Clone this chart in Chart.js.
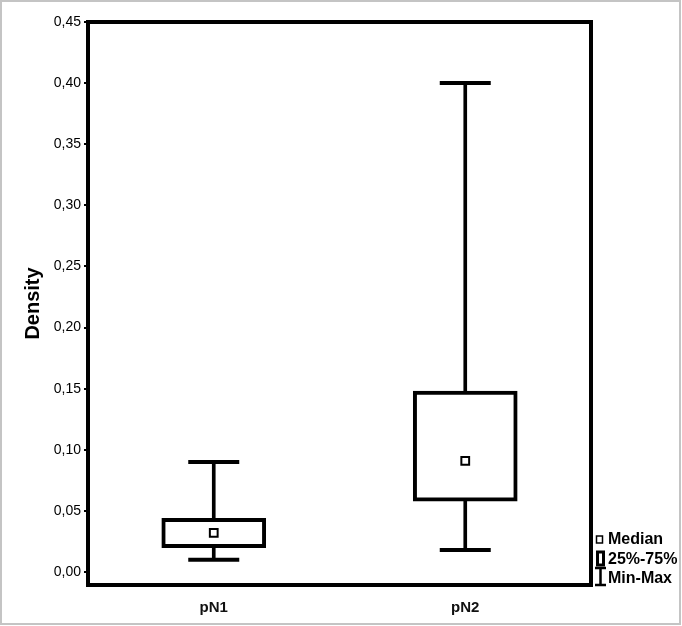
<!DOCTYPE html>
<html>
<head>
<meta charset="utf-8">
<script src="https://cdn.jsdelivr.net/npm/chart.js@4.4.1/dist/chart.umd.min.js"></script>
<style>
  html, body { margin: 0; padding: 0; background: #fff; }
  #wrap { width: 682px; height: 626px; position: relative; }
</style>
</head>
<body>
<div id="wrap"><canvas id="c" width="682" height="626"></canvas></div>
<script>
// values
var groups = ['pN1', 'pN2'];
var minVals = [0.010, 0.018];
var q1Vals = [0.020, 0.058];
var medianVals = [0.032, 0.091];
var q3Vals = [0.044, 0.148];
var maxVals = [0.090, 0.400];
var yTicks = [0, 0.05, 0.10, 0.15, 0.20, 0.25, 0.30, 0.35, 0.40, 0.45];
var legendItems = ['Median', '25%-75%', 'Min-Max'];

var ctx = document.getElementById('c').getContext('2d');

var frame = {
  id: 'frame',
  afterDraw: function(chart) {
    var c = chart.ctx, a = chart.chartArea;
    c.save();
    // light grey outer border of the picture
    c.strokeStyle = '#c4c4c4';
    c.lineWidth = 2;
    c.strokeRect(1, 1, 679, 623);
    // plot frame
    c.strokeStyle = '#000';
    c.lineWidth = 4;
    c.strokeRect(a.left, a.top, a.right - a.left, a.bottom - a.top);

    // legend at lower right
    var x0 = a.right + 5;
    c.fillStyle = '#000';
    c.font = 'bold 16px "Liberation Sans", Arial, sans-serif';
    c.textBaseline = 'middle';
    c.textAlign = 'left';
    var ys = [540, 560, 579];
    legendItems.forEach(function(t, i) { c.fillText(t, x0 + 12, ys[i]); });
    // median icon
    c.lineWidth = 1.5;
    c.fillStyle = '#fff';
    c.fillRect(x0 + 0.5, 536, 6, 7);
    c.strokeRect(x0 + 0.5, 536, 6, 7);
    // box icon
    c.lineWidth = 3;
    c.strokeRect(x0 + 1.5, 552, 6, 13);
    // min-max icon
    c.lineWidth = 2.5;
    c.beginPath();
    c.moveTo(x0 + 4.5, 568); c.lineTo(x0 + 4.5, 585);
    c.moveTo(x0 - 1, 568); c.lineTo(x0 + 10, 568);
    c.moveTo(x0 - 1, 585); c.lineTo(x0 + 10, 585);
    c.stroke();
    c.restore();
  }
};

new Chart(ctx, {
  type: 'bar',
  data: {
    labels: groups,
    datasets: [
      {
        type: 'line',
        label: 'Median',
        data: medianVals,
        showLine: false,
        pointStyle: 'rect',
        pointRadius: 5.5,
        pointBorderWidth: 2,
        pointBackgroundColor: '#fff',
        pointBorderColor: '#000',
        order: 0
      },
      {
        type: 'line',
        label: 'Max',
        data: maxVals,
        showLine: false,
        pointStyle: 'line',
        pointRadius: 25.5,
        pointBorderWidth: 4,
        pointBorderColor: '#000',
        order: 1
      },
      {
        type: 'line',
        label: 'Min',
        data: minVals,
        showLine: false,
        pointStyle: 'line',
        pointRadius: 25.5,
        pointBorderWidth: 4,
        pointBorderColor: '#000',
        order: 1
      },
      {
        label: '25%-75%',
        data: groups.map(function(g, i) { return [q1Vals[i], q3Vals[i]]; }),
        backgroundColor: '#fff',
        borderColor: '#000',
        borderWidth: 4,
        borderSkipped: false,
        barThickness: 104,
        grouped: false,
        order: 2
      },
      {
        label: 'Min-Max',
        data: groups.map(function(g, i) { return [minVals[i], maxVals[i]]; }),
        backgroundColor: '#000',
        borderWidth: 0,
        barThickness: 3,
        grouped: false,
        order: 3
      }
    ]
  },
  options: {
    responsive: false,
    animation: false,
    layout: { autoPadding: false, padding: { top: 22, right: 91, left: 0, bottom: 0 } },
    plugins: { legend: { display: false }, tooltip: { enabled: false } },
    scales: {
      x: {
        offset: true,
        border: { display: false },
        grid: { display: false },
        ticks: {
          color: '#111',
          padding: 6,
          font: { family: '"Liberation Sans", Arial, sans-serif', size: 15, weight: 'bold' }
        },
        afterFit: function(s) { s.height = 41; }
      },
      y: {
        min: -0.0106,
        max: 0.45,
        border: { display: false },
        grid: { drawOnChartArea: false, drawTicks: true, tickLength: 4, color: '#000', lineWidth: 2 },
        afterBuildTicks: function(s) { s.ticks = yTicks.map(function(v) { return { value: v }; }); },
        ticks: {
          color: '#000',
          padding: 3,
          font: { family: '"Liberation Sans", Arial, sans-serif', size: 14 },
          callback: function(v) { return v.toFixed(2).replace('.', ','); }
        },
        title: {
          display: true,
          text: 'Density',
          color: '#000',
          padding: { top: 21, bottom: 0 },
          font: { family: '"Liberation Sans", Arial, sans-serif', size: 20, weight: 'bold' }
        },
        afterFit: function(s) { s.width = 88; }
      }
    }
  },
  plugins: [frame]
});
</script>
</body>
</html>
